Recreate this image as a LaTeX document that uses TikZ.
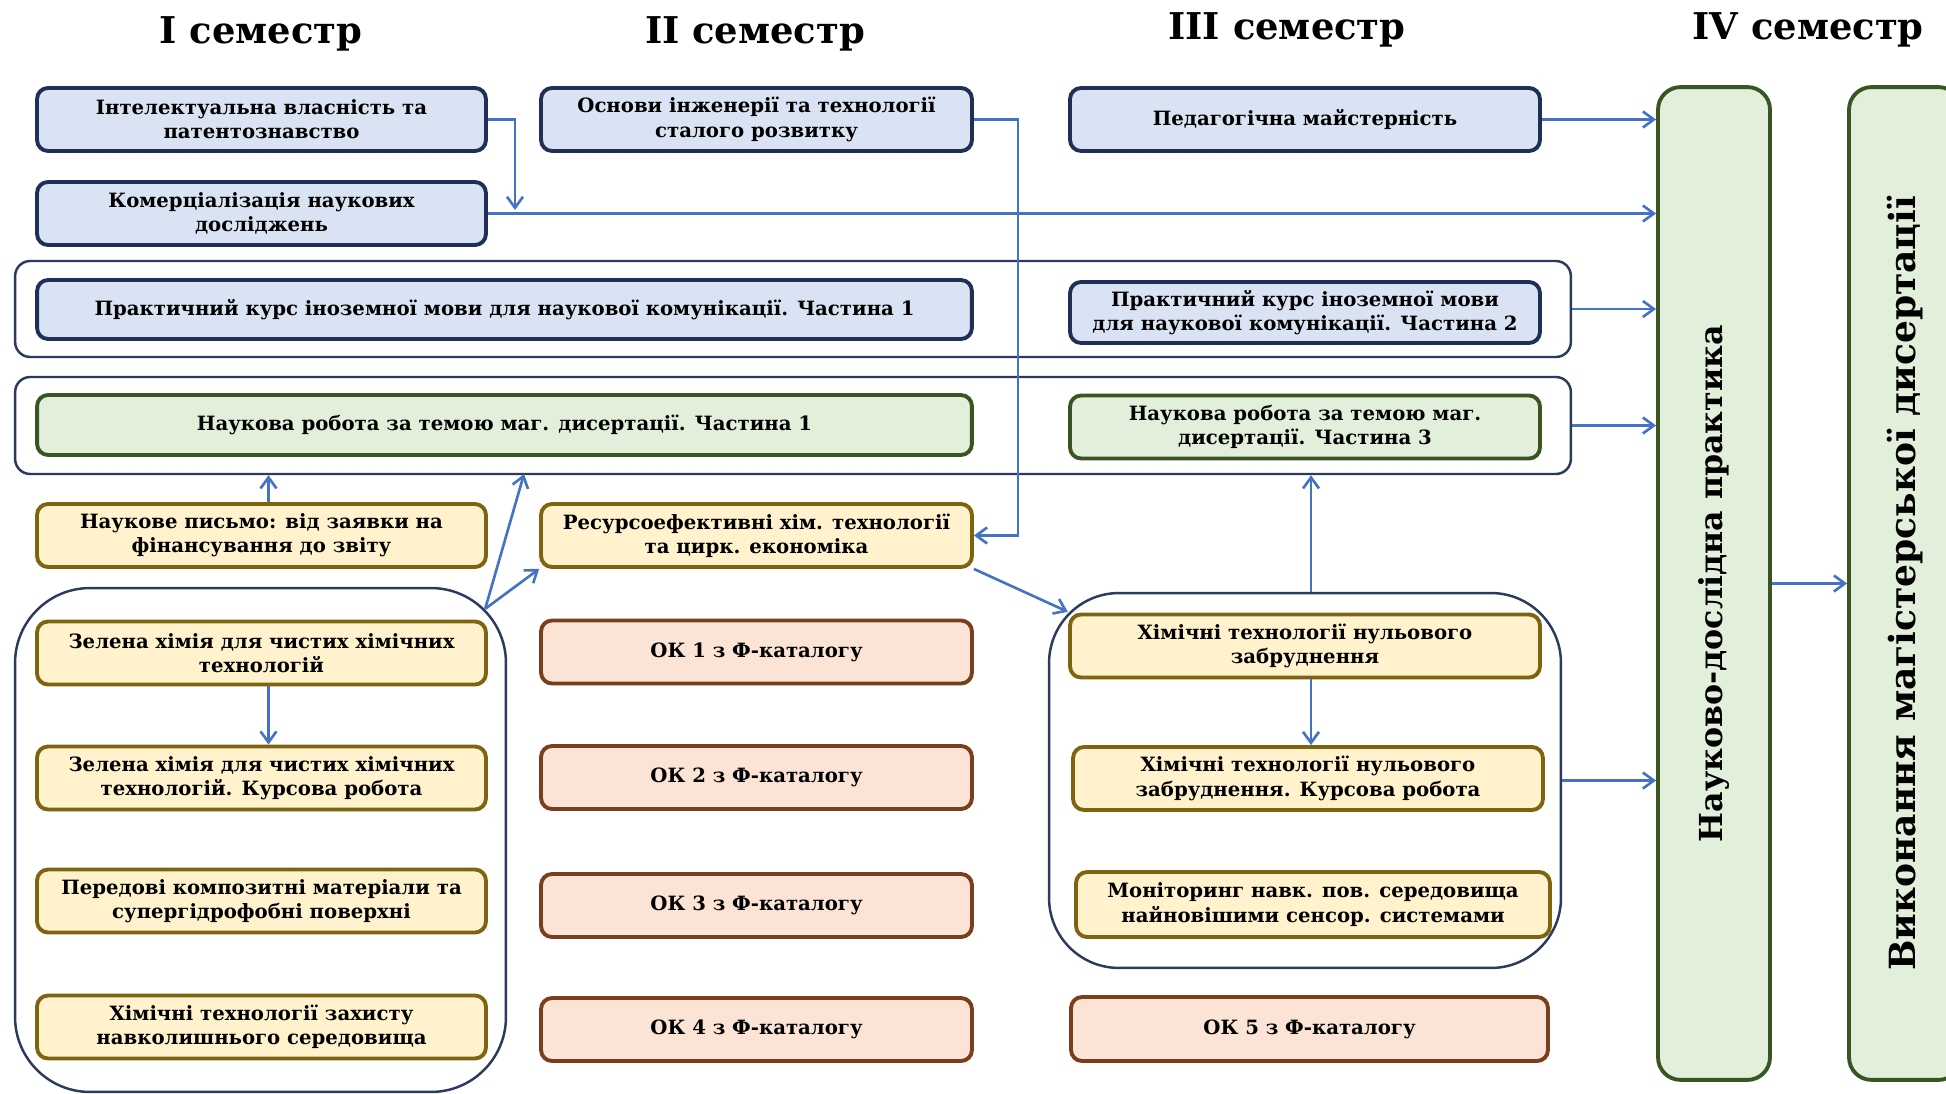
\documentclass[tikz,border=0pt]{standalone}
\usepackage{fontspec}
\setmainfont{DejaVu Serif}
\usetikzlibrary{positioning}
\usetikzlibrary{arrows.meta}
\usetikzlibrary{shadows}

\definecolor{bluefill}{HTML}{DAE3F3}
\definecolor{blueline}{HTML}{1F2F55}
\definecolor{greenfill}{HTML}{E2EFDA}
\definecolor{greenline}{HTML}{3A5524}
\definecolor{yellowfill}{HTML}{FFF2CC}
\definecolor{yellowline}{HTML}{7F6410}
\definecolor{okfill}{HTML}{FBE4D5}
\definecolor{okline}{HTML}{7A3E1C}
\definecolor{groupline}{HTML}{2C3A5E}
\definecolor{arrowblue}{HTML}{4472C4}

\tikzset{
  subj/.style={draw, line width=2.2pt, rounded corners=0.22cm, align=center,
    font=\bfseries\fontsize{11.2}{13.8}\selectfont, inner sep=2pt,
    drop shadow={opacity=0.25, shadow xshift=0.6pt, shadow yshift=-0.9pt}},
  bluebox/.style={subj, draw=blueline, fill=bluefill},
  greenbox/.style={subj, draw=greenline, fill=greenfill},
  yellowbox/.style={subj, draw=yellowline, fill=yellowfill},
  okbox/.style={subj, draw=okline, fill=okfill},
  col1/.style={minimum width=8.98cm, minimum height=1.26cm},
  col2/.style={minimum width=8.62cm, minimum height=1.26cm},
  col3/.style={minimum width=9.4cm, minimum height=1.26cm},
  group/.style={draw=groupline, line width=1.4pt, inner sep=0pt},
  tall/.style={draw=greenline, fill=greenfill, line width=2.2pt, rounded corners=0.45cm,
    minimum width=2.24cm, minimum height=19.86cm, inner sep=0pt},
  sem/.style={font=\bfseries\fontsize{21}{25}\selectfont},
  flow/.style={draw=arrowblue, line width=1.5pt, -{Straight Barb[length=0.22cm, width=0.32cm]}}
}

\begin{document}
\begin{tikzpicture}[x=0.02cm, y=-0.02cm]
  \useasboundingbox (0,0) rectangle (1946,1094);

  % semester headings
  \node[sem] (s1) at (261,34) {I семестр};
  \node[sem] (s2) at (755,34) {II семестр};
  \node[sem] (s3) at (1287,30) {III семестр};
  \node[sem] (s4) at (1808,30) {IV семестр};

  % frames round groups of subjects
  \node[group, rounded corners=0.3cm, minimum width=31.12cm, minimum height=1.92cm] (row1) at (793,309) {};
  \node[group, rounded corners=0.3cm, minimum width=31.12cm, minimum height=1.94cm] (row2) at (793,425.5) {};
  \node[group, rounded corners=1.5cm, minimum width=9.82cm, minimum height=10.08cm] (grp1) at (260.5,840) {};
  \node[group, rounded corners=1.4cm, minimum width=10.24cm, minimum height=7.5cm] (grp3) at (1305,780.5) {};

  % first semester
  \node[bluebox, col1] (intel) at (261.5,119.5) {Інтелектуальна власність та\\ патентознавство};
  \node[bluebox, col1] (komer) at (261.5,213.5) {Комерціалізація наукових\\ досліджень};
  \node[yellowbox, col1] (pysmo) at (261.5,535.5) {Наукове письмо: від заявки на\\ фінансування до звіту};
  \node[yellowbox, col1] (zel1) at (261.5,653) {Зелена хімія для чистих хімічних\\ технологій};
  \node[yellowbox, col1] (zel2) at (261.5,778) {Зелена хімія для чистих хімічних\\ технологій. Курсова робота};
  \node[yellowbox, col1] (pered) at (261.5,901) {Передові композитні матеріали та\\ супергідрофобні поверхні};
  \node[yellowbox, col1] (zakh) at (261.5,1027) {Хімічні технології захисту\\ навколишнього середовища};

  % first and second semester together
  \node[bluebox, minimum width=18.7cm, minimum height=1.18cm] (prak1) at (504.5,309.5) {Практичний курс іноземної мови для наукової комунікації. Частина 1};
  \node[greenbox, minimum width=18.7cm, minimum height=1.2cm] (nauk1) at (504.5,425) {Наукова робота за темою маг. дисертації. Частина 1};

  % second semester
  \node[bluebox, col2] (osnovy) at (756.5,119.5) {Основи інженерії та технології\\ сталого розвитку};
  \node[yellowbox, col2] (resurs) at (756.5,535.5) {Ресурсоефективні хім. технології\\ та цирк. економіка};
  \node[okbox, col2] (ok1) at (756.5,652) {ОК 1 з Ф-каталогу};
  \node[okbox, col2] (ok2) at (756.5,777.5) {ОК 2 з Ф-каталогу};
  \node[okbox, col2] (ok3) at (756.5,905.5) {ОК 3 з Ф-каталогу};
  \node[okbox, col2] (ok4) at (756.5,1029.5) {ОК 4 з Ф-каталогу};

  % third semester
  \node[bluebox, col3] (pedag) at (1305,119.5) {Педагогічна майстерність};
  \node[bluebox, col3, minimum height=1.22cm] (prak2) at (1305,312.5) {Практичний курс іноземної мови\\ для наукової комунікації. Частина 2};
  \node[greenbox, col3] (nauk3) at (1305,427) {Наукова робота за темою маг.\\ дисертації. Частина 3};
  \node[yellowbox, col3] (nul1) at (1305,646) {Хімічні технології нульового\\ забруднення};
  \node[yellowbox, col3] (nul2) at (1308,778.5) {Хімічні технології нульового\\ забруднення. Курсова робота};
  \node[yellowbox, minimum width=9.48cm, minimum height=1.3cm] (monit) at (1313,904.5) {Моніторинг навк. пов. середовища\\ найновішими сенсор. системами};
  \node[okbox, minimum width=9.54cm, minimum height=1.28cm] (ok5) at (1309.5,1029) {ОК 5 з Ф-каталогу};

  % fourth semester
  \node[tall] (prakt) at (1714,583.5) {\rotatebox{90}{\bfseries\fontsize{18}{21}\selectfont Науково-дослідна практика}};
  \node[tall] (vykon) at (1905,583.5) {\rotatebox{90}{\bfseries\fontsize{20.5}{24}\selectfont Виконання магістерської дисертації}};

  % free ends of connectors
  \coordinate (k1) at (515,210);
  \coordinate (v2) at (1018,300);
  \coordinate (r2a) at (524,474);
  \coordinate (g1c) at ([xshift=-0.44cm,yshift=-0.44cm]grp1.north east);
  \coordinate (g3c) at ([xshift=0.4cm,yshift=-0.4cm]grp3.north west);

  % connectors
  \draw[flow] (intel.east) -| (k1);
  \draw[flow] (komer.east) -- (komer.east -| prakt.west);
  \draw[flow] (pedag.east) -- (pedag.east -| prakt.west);
  \draw[flow] (row1.east) -- (row1.east -| prakt.west);
  \draw[flow] (row2.east) -- (row2.east -| prakt.west);
  \draw[flow] (grp3.east) -- (grp3.east -| prakt.west);
  \draw[flow] (prakt.east) -- (vykon.west);
  \draw[flow] (osnovy.east) -| (v2) |- (resurs.east);
  \draw[flow] ([xshift=0.14cm]pysmo.north) -- ([xshift=0.14cm]pysmo.north |- row2.south);
  \draw[flow] (g1c) -- (r2a);
  \draw[flow] (g1c) -- (resurs.south west);
  \draw[flow] (resurs.south east) -- (g3c);
  \draw[flow] ([xshift=0.12cm]grp3.north) -- ([xshift=0.12cm]grp3.north |- row2.south);
  \draw[flow] ([xshift=0.12cm]nul1.south) -- ([xshift=0.12cm]nul1.south |- nul2.north);
  \draw[flow] ([xshift=0.14cm]zel1.south) -- ([xshift=0.14cm]zel1.south |- zel2.north);
\end{tikzpicture}
\end{document}
